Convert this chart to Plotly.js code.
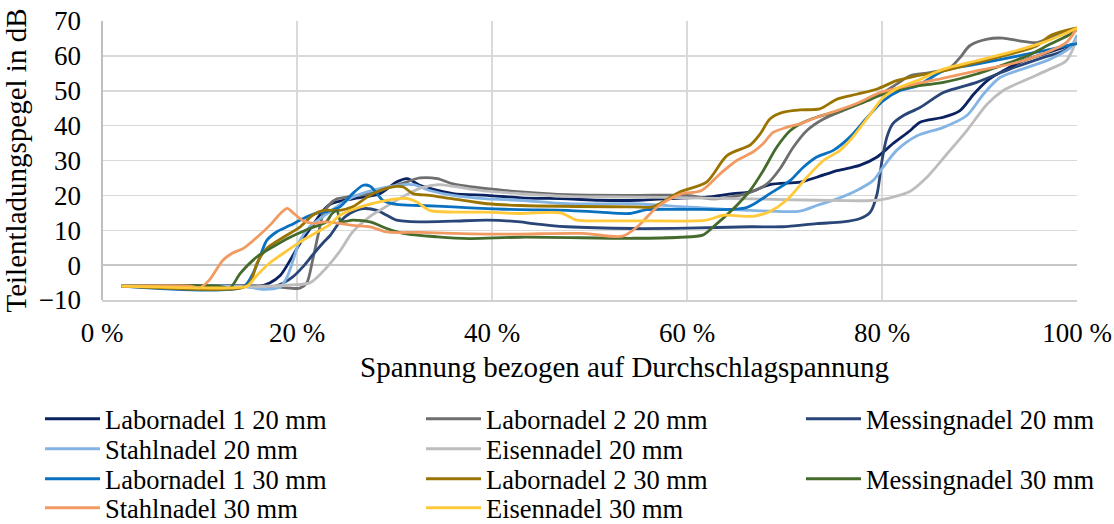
<!DOCTYPE html>
<html>
<head>
<meta charset="utf-8">
<script src="https://cdn.plot.ly/plotly-3.0.1.min.js"></script>
<style>html,body{margin:0;padding:0;background:#fff;}#chart{width:1114px;height:524px;}</style>
</head>
<body>
<div id="chart"></div>
<script>
// Spannung bezogen auf Durchschlagspannung in %, Teilentladungspegel in dB
const xTicks = [0, 20, 40, 60, 80, 100];
const xTickLabels = ["0 %", "20 %", "40 %", "60 %", "80 %", "100 %"];
const yTicks = [-10, 0, 10, 20, 30, 40, 50, 60, 70];
const xTitle = 'Spannung bezogen auf Durchschlagspannung';
const yTitle = 'Teilentladungspegel in dB';

const seriesNames = ["Labornadel 1 20 mm", "Labornadel 2 20 mm", "Messingnadel 20 mm", "Stahlnadel 20 mm", "Eisennadel 20 mm",
                     "Labornadel 1 30 mm", "Labornadel 2 30 mm", "Messingnadel 30 mm", "Stahlnadel 30 mm", "Eisennadel 30 mm"];
const seriesColors = ["#0a2260", "#6e6e6e", "#2a4577", "#84b4e4", "#bdbdbd",
                      "#0a70c0", "#9a7400", "#446a2c", "#f19a62", "#ffc93a"];
const legendRow = [0, 0, 0, 1, 1, 2, 2, 2, 3, 3];
const legendCol = [0, 1, 2, 0, 1, 0, 1, 2, 0, 1];

const x_L1_20 = [2, 14, 15.9, 17.2, 18.3, 19.3, 20.3, 21.6, 22.7, 23.5, 25.7, 28.5, 30.2, 31.3, 32.6, 36, 39.5, 43, 47.7, 51, 55, 60, 62, 64.7, 66.5, 68.5, 71.6, 73.3, 75.4, 77.7, 79.5, 81.1, 82.9, 83.9, 86.3, 88, 89.4, 90.8, 92.4, 94.5, 96.5, 98.6, 100];
const y_L1_20 = [-6, -6, -6.2, -5.1, -2.9, 1.4, 6.2, 11.4, 15.7, 17.6, 19, 20.5, 23.8, 24.8, 22.9, 20.5, 20, 19.3, 19, 18.6, 18.6, 19.3, 19.5, 20.5, 21, 23.1, 23.8, 25.2, 27.1, 28.6, 31, 34.8, 38.6, 41, 42.4, 44.3, 49, 52.9, 55.7, 58.6, 60.5, 62.4, 64];

const x_L2_20 = [2, 17, 19.3, 20.3, 21, 21.6, 22.2, 22.7, 23.4, 24.1, 25.1, 27.5, 29.6, 30.9, 32.6, 34.4, 36, 39.5, 43, 47.7, 54.5, 60, 62.7, 66.1, 68.2, 69.5, 70.9, 72.3, 74, 76, 78.1, 80.1, 81.5, 82.9, 84.9, 87, 88, 89, 90.8, 92.4, 94.1, 95.9, 97.2, 98.9, 100];
const y_L2_20 = [-6, -6, -6.6, -6.6, -5.1, 1.4, 9.1, 14.8, 17.6, 19, 19.5, 20.5, 22.4, 23.5, 25, 24.8, 23.3, 21.9, 21, 20.2, 20, 20, 19, 20.5, 23.3, 27.5, 33.8, 38.6, 41.9, 44.3, 46.7, 49.5, 51.9, 54.3, 55.2, 56.7, 59.5, 62.9, 64.8, 65.1, 64.3, 63.8, 65.2, 67.1, 68];

const x_M_20 = [2, 15, 16.9, 18.6, 19.6, 20.6, 21.6, 22.7, 23.4, 24.4, 25.4, 26.8, 28.2, 29.2, 30.2, 32.6, 36, 39.5, 42.9, 44.2, 47.7, 54.5, 60, 66.5, 69.8, 73.3, 76, 77.7, 78.8, 79.5, 80, 80.5, 81.1, 82.2, 83.9, 86.3, 89.7, 93.1, 96.5, 98.6, 100];
const y_M_20 = [-6, -6, -6.6, -5.1, -3.3, -0.5, 2.9, 6.5, 8.5, 12.4, 14.8, 16.2, 15.7, 14.3, 12.9, 12.4, 12.6, 12.9, 12.4, 11.9, 11, 10.5, 10.6, 11, 11, 11.9, 12.4, 13.3, 15.2, 20.5, 30, 36.7, 40.5, 42.9, 45.2, 49.5, 52.4, 56.2, 59.5, 61.4, 64];

const x_S_20 = [2, 14.9, 16, 17.2, 18.3, 19, 19.6, 20.3, 21.3, 22.7, 25.7, 29.2, 31.9, 33.6, 36, 39.5, 42.9, 47.7, 54.5, 60, 66.5, 71.6, 73.3, 75.4, 77.4, 79.1, 80.1, 81.5, 83.6, 86.3, 88.7, 90.4, 92.1, 94.9, 97.2, 99.3, 100];
const y_S_20 = [-6, -6.2, -6.8, -6.9, -6.2, -3.3, 1.4, 7.1, 11, 14, 19.5, 22.4, 23.1, 21.4, 20, 19, 18.6, 17.6, 17.6, 16.7, 15.7, 15.5, 17.1, 19, 21.4, 24.3, 28, 32.9, 37.1, 39.5, 42.9, 49, 53.8, 56.7, 59, 62.4, 66];

const x_E_20 = [2, 15.9, 19.3, 21.3, 22.6, 24.4, 25.7, 27.5, 29.4, 31.1, 32.8, 34.5, 36, 39.5, 42.9, 47.7, 54.5, 60, 66.5, 73.3, 79.5, 81.1, 82.9, 84.6, 86.7, 88.7, 90.8, 92.4, 94.9, 97.2, 98.9, 100];
const y_E_20 = [-6, -6.2, -5.7, -5.1, -2, 4, 9.5, 14, 17.2, 20, 22.2, 23.1, 22.6, 21.2, 20.5, 19.7, 19.5, 19.3, 19, 18.6, 18.6, 19.5, 21.2, 25.2, 32, 38.6, 46.2, 50, 53.3, 56.2, 58.6, 65];

const x_L1_30 = [2, 14.5, 15.5, 16.2, 16.9, 17.9, 19.3, 20.6, 22, 23, 24.4, 25.7, 26.8, 27.5, 28.2, 28.8, 30.2, 32.6, 36, 39.5, 42.9, 47.7, 51, 54.1, 55.9, 60, 66.1, 68.5, 70.6, 71.9, 73.3, 75, 76.7, 78.5, 80.1, 81.8, 83.6, 86.3, 89.7, 93.1, 96.5, 98.9, 100];
const y_L1_30 = [-6, -6.2, -2.3, 2.4, 7.1, 9.5, 11.4, 13.3, 14.9, 15.3, 16.7, 20.5, 22.9, 22.6, 20.5, 18.6, 17.4, 17.1, 16.7, 16.2, 15.9, 15.7, 15.2, 14.8, 15.9, 16, 16.5, 20.5, 24.3, 28, 31, 32.9, 36.7, 42.4, 47.1, 50, 51.4, 55.7, 57.6, 59.5, 61.4, 62.9, 63.5];

const x_L2_30 = [2, 14.2, 15.2, 15.9, 16.9, 18.6, 20.3, 21.6, 22.7, 24.4, 25.7, 27.2, 28.5, 30.2, 30.9, 31.9, 33.6, 36, 39.5, 42.9, 54.5, 56.5, 59.3, 62, 64.1, 66.5, 67.5, 68.5, 69.8, 71.6, 73.6, 75.4, 77.4, 79.5, 81.5, 83.6, 86.3, 89.7, 93.1, 95.9, 97.2, 98.9, 100];
const y_L2_30 = [-6, -6.6, -5, 0.6, 4.8, 8, 10.9, 14.3, 15.7, 15.7, 16.7, 19.5, 21.4, 22.6, 22.4, 20.5, 20, 19, 17.6, 17.1, 16.7, 16.7, 21, 23.8, 31.4, 34.5, 37.6, 41.9, 43.8, 44.5, 44.8, 47.6, 49, 50.5, 52.9, 54.3, 55.7, 58.1, 60.5, 62.9, 65.7, 67.3, 68];

const x_M_30 = [2, 12, 13.1, 14.2, 15.9, 17.5, 19.3, 21.3, 23, 23.6, 24.1, 24.5, 25.7, 27.5, 29.2, 30.9, 34.4, 37.7, 42.9, 54.5, 59.3, 61.6, 62.7, 64.7, 66.5, 67.8, 69.2, 70.6, 71.9, 73.3, 75.7, 78.1, 80.1, 82.6, 86.3, 89.7, 93.1, 94.9, 97.2, 99.3, 100];
const y_M_30 = [-6, -6, -6.6, -2.3, 2.4, 5.2, 8, 10.5, 12.4, 14.8, 15.5, 12.5, 12.9, 12.4, 10.5, 9.1, 8.1, 7.6, 8, 7.7, 8, 8.6, 11, 16, 21.5, 27, 33.8, 38.6, 40.9, 42.4, 44.3, 46.7, 49, 51, 52.4, 54.8, 58.1, 60, 63.3, 66.2, 67.6];

const x_S_30 = [2, 9, 10, 11, 12.4, 13.4, 14.5, 15.9, 17.2, 18.3, 19, 19.6, 20.6, 21.6, 23, 25.7, 27.5, 29.2, 32.6, 36, 39.5, 42.9, 49.3, 53.4, 54.9, 57, 59.3, 61.5, 63.4, 65.1, 66.8, 67.8, 68.8, 70.2, 71.6, 73.3, 75.4, 77.7, 79.8, 82, 84, 86.3, 89.7, 93.1, 94.9, 97.2, 98.9, 100];
const y_S_30 = [-6, -6, -6.5, -4.3, 1.4, 3.5, 4.8, 8, 11.4, 14.8, 16.3, 15, 12.8, 12, 12.4, 11.4, 11, 9.5, 9.4, 9.1, 8.9, 8.9, 9.1, 8.3, 11, 16.8, 20.3, 21.4, 26.2, 30, 32.5, 34.8, 38, 39.5, 40.5, 42.4, 44.3, 46.7, 49.5, 51, 52.3, 53.6, 55.7, 57.6, 59, 61.4, 63.8, 68];

const x_E_30 = [2, 13.4, 14.9, 15.9, 17.2, 18.6, 20.3, 22, 23.4, 24.4, 26.5, 29.2, 31.3, 32.3, 33.6, 36, 39.5, 42.9, 47, 48.7, 51, 55.2, 62, 63.7, 66.8, 68.5, 70.2, 72.3, 74, 75.7, 77, 78.8, 80.1, 81.8, 83.6, 86.3, 89.7, 93.1, 96.5, 98.6, 100];
const y_E_30 = [-6, -6.5, -6, -2.9, 0.6, 3.4, 6.6, 9.4, 11.7, 14.3, 16.7, 18.6, 19.1, 18.1, 15.7, 15.2, 15.2, 14.8, 15, 12.9, 12.7, 12.7, 12.9, 14.3, 14, 15.4, 18.6, 25.2, 30, 32.9, 36.7, 43.3, 48, 51, 52.9, 56.2, 58.6, 61, 63.8, 66.2, 68];

const xs = [x_L1_20, x_L2_20, x_M_20, x_S_20, x_E_20, x_L1_30, x_L2_30, x_M_30, x_S_30, x_E_30];
const ys = [y_L1_20, y_L2_20, y_M_20, y_S_20, y_E_20, y_L1_30, y_L2_30, y_M_30, y_S_30, y_E_30];

const FONT = "Liberation Serif, Times New Roman, serif";
const W = 1114, H = 524, ML = 102, MR = 37, MT = 21, MB = 224;
const colX = [40, 421, 801];
const rowY = [419, 449, 479, 508];

const traces = seriesNames.map((n, i) => ({
  type: 'scatter', mode: 'lines', name: n,
  x: xs[i], y: ys[i],
  line: {color: seriesColors[i], width: 2.8, shape: 'spline', smoothing: 0.8},
  legend: i === 0 ? 'legend' : 'legend' + (i + 1),
  hoverinfo: 'skip'
}));

const layout = {
  width: W, height: H,
  margin: {l: ML, r: MR, t: MT, b: MB, autoexpand: false},
  paper_bgcolor: '#fff', plot_bgcolor: '#fff',
  font: {family: FONT, size: 27, color: '#000'},
  showlegend: true,
  xaxis: {
    range: [0, 100], tickvals: xTicks, ticktext: xTickLabels,
    showgrid: true, gridcolor: '#d9d9d9', gridwidth: 1.5,
    zeroline: true, zerolinecolor: '#bfbfbf', zerolinewidth: 1.5,
    showline: true, linecolor: '#d0d0d0', linewidth: 1.5,
    ticks: '', ticklabelstandoff: 8,
    tickfont: {family: FONT, size: 27, color: '#000'},
    fixedrange: true
  },
  yaxis: {
    range: [-10, 70], tickvals: yTicks,
    showgrid: true, gridcolor: '#d9d9d9', gridwidth: 1.5,
    zeroline: true, zerolinecolor: '#c6c6c6', zerolinewidth: 1.5,
    ticks: '', ticklabelstandoff: 20,
    tickfont: {family: FONT, size: 27, color: '#000'},
    title: {text: yTitle, font: {family: FONT, size: 29, color: '#000'}, standoff: 6},
    fixedrange: true
  },
  annotations: [{
    text: xTitle, xref: 'paper', yref: 'paper',
    x: (624 - ML) / (W - ML - MR), y: -(367 - (H - MB)) / (H - MT - MB),
    xanchor: 'center', yanchor: 'middle', showarrow: false,
    font: {family: FONT, size: 29, color: '#000'}
  }]
};
seriesNames.forEach((n, i) => {
  const id = i === 0 ? 'legend' : 'legend' + (i + 1);
  layout[id] = {
    orientation: 'h', xanchor: 'left', yanchor: 'middle', xref: 'container', yref: 'container',
    x: colX[legendCol[i]] / W, y: 1 - rowY[legendRow[i]] / H,
    font: {family: FONT, size: 26.5, color: '#000'},
    bgcolor: 'rgba(0,0,0,0)', itemwidth: 55, borderwidth: 0
  };
});

Plotly.newPlot('chart', traces, layout, {displayModeBar: false, staticPlot: true});
</script>
</body>
</html>
